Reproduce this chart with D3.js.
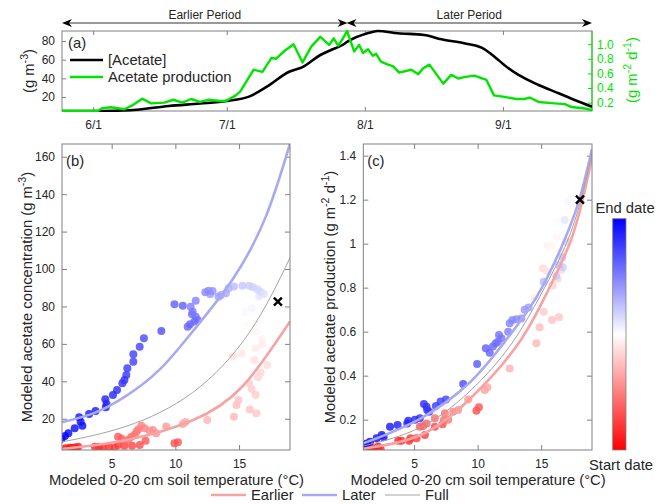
<!DOCTYPE html>
<html>
<head>
<meta charset="utf-8">
<script src="https://cdn.jsdelivr.net/npm/d3@7"></script>
<style>
  body { margin: 0; background: #fff; }
  svg { font-family: "Liberation Sans", Arial, Helvetica, sans-serif; }
</style>
</head>
<body>
<div id="chart"></div>
<script>
// ---------- (a) time series, days counted from June 1 ----------
const acetateDays = [-7, 1, 5, 9, 17, 24, 30, 35, 39, 44, 47, 51, 53.4, 56, 57.1, 61.6, 63.9, 68.4, 74.3, 78.2, 83.3, 87.2, 90.1, 92.3, 95.5, 100, 104.5, 108.1, 112];
const acetateConc = [5, 5, 5.3, 6, 10.4, 13, 15.7, 20.4, 31, 47, 52, 65, 70.4, 75.7, 79.3, 88.3, 90.7, 88.3, 86.5, 81.8, 77.5, 72.8, 63.2, 54.3, 43.6, 32.9, 24, 16.8, 9.6];

const prodDays = [-7, 1, 2, 4, 7, 9, 11, 13, 16, 18, 20, 22, 24, 26, 29, 30, 32, 33, 36, 38, 40, 41, 43, 45, 47, 49, 51, 53, 54, 55, 56, 57,
  58.6, 59.7, 60.6, 61.7, 62.8, 63.5, 64.6, 66.2, 67.3, 68.7, 71.4, 73, 74.1, 75.5, 78.6, 80.4, 82, 83.3, 85.6, 88.3, 90, 92.3, 95, 96.8, 98, 100, 103.6, 105.9, 107.4, 110.4, 112];
const prodRate = [0.086, 0.086, 0.123, 0.137, 0.11, 0.17, 0.255, 0.19, 0.2, 0.24, 0.2, 0.25, 0.21, 0.24, 0.22, 0.23, 0.3, 0.35, 0.65, 0.62, 0.81, 0.8, 0.91, 1.0, 0.75, 0.97, 1.1, 0.99, 1.08, 0.98, 1.07, 1.18,
  0.9, 0.99, 0.88, 0.93, 0.84, 0.87, 0.76, 0.72, 0.7, 0.61, 0.65, 0.59, 0.67, 0.72, 0.46, 0.58, 0.53, 0.55, 0.57, 0.51, 0.3, 0.28, 0.25, 0.25, 0.27, 0.21, 0.19, 0.18, 0.14, 0.12, 0.1];

const firstDay = -7, splitDay = 57, lastDay = 112;
const dayTicks = [0, 30, 61, 92];

// ---------- (b) temperature vs concentration, colour = date (0 start, 1 end) ----------
const bTemp = [1.4, 1.73, 1.9, 2.1, 2.2, 2.37, 3.68, 4.0, 4.3, 4.8, 5.24, 5.5, 6.0, 6.6, 7.2, 9.93, 10.2,
  7.66, 5.5, 5.76, 6.28, 6.55, 6.8, 6.94, 7.1, 7.33, 7.58, 7.98, 8.23, 8.5, 9.28, 10.58, 10.8, 12.5,
  14.6, 14.8, 14.95, 15.84, 16.36, 16.3, 16.0, 15.8, 16.5, 16.7, 17.2, 16.2, 14.5, 15.2, 16.3, 16.8, 16.8, 16.36, 15.65, 16.26, 15.65, 15.5, 16.0,
  16.57, 16.96, 16.7, 16.44, 16.1, 15.8, 15.26, 14.6, 14.17, 13.97, 13.58, 13.39, 12.74, 12.92, 12.6, 12.35,
  11.6, 11.2, 11.36, 11.3, 11.6, 11.75, 11.5, 11.15, 10.97, 10.58, 9.93,
  8.9, 7.53, 7.2, 6.7, 6.7, 6.23, 6.15, 6.0, 5.84, 5.42, 5.1, 4.5, 4.6, 4.54, 3.73, 3.23, 2.45, 2.56, 2.7, 2.1, 1.6, 1.33, 1.08];
const bConc = [4.2, 4.5, 4.3, 4.7, 4.2, 5.1, 5.1, 5.1, 4.6, 4.7, 4.5, 6.0, 5.6, 5.6, 6.0, 6.9, 7.4,
  8.3, 10.4, 9.5, 8.6, 10.4, 11.3, 13.1, 14.4, 16.3, 14.9, 13.6, 14.0, 12.2, 15.8, 17.2, 18.3, 19.3,
  21.1, 27.3, 30.0, 25.0, 22.9, 32.7, 35.9, 38.9, 42.2, 44.6, 48.7, 51.4, 53.2, 55.0, 57.7, 59.8, 62.5, 66.5, 70.0, 70.6, 74.9, 77, 79,
  85.6, 86.7, 87.9, 89.2, 90.3, 91.0, 91.0, 90.6, 89.7, 87.0, 86.1, 85.2, 86.7, 88.3, 88.4, 87.6,
  83.1, 79.9, 77.2, 75.8, 74.5, 72.8, 71.9, 70.5, 69.2, 80.4, 81.2,
  66.9, 63.0, 58.5, 54.4, 50.5, 47.0, 43.4, 40.7, 39.0, 35.4, 32.7, 30.4, 27.9, 26.1, 24.1, 22.5, 20.8, 18.4, 16.3, 14.9, 12.2, 10.8, 9.5];
const bTime = [0.02, 0.03, 0.04, 0.05, 0.05, 0.06, 0.08, 0.09, 0.09, 0.1, 0.11, 0.12, 0.13, 0.14, 0.15, 0.16, 0.17,
  0.17, 0.18, 0.19, 0.2, 0.21, 0.22, 0.23, 0.24, 0.25, 0.26, 0.27, 0.28, 0.29, 0.31, 0.32, 0.33, 0.35,
  0.36, 0.37, 0.38, 0.38, 0.39, 0.4, 0.4, 0.41, 0.42, 0.42, 0.43, 0.44, 0.44, 0.45, 0.46, 0.46, 0.47, 0.48, 0.49, 0.49, 0.5, 0.51, 0.52,
  0.55, 0.56, 0.57, 0.58, 0.59, 0.6, 0.61, 0.63, 0.65, 0.67, 0.68, 0.69, 0.7, 0.71, 0.72, 0.73,
  0.74, 0.75, 0.76, 0.77, 0.77, 0.78, 0.79, 0.8, 0.8, 0.81, 0.81,
  0.84, 0.85, 0.86, 0.87, 0.87, 0.88, 0.89, 0.9, 0.9, 0.91, 0.92, 0.93, 0.93, 0.94, 0.95, 0.95, 0.96, 0.96, 0.97, 0.97, 0.98, 0.99, 1.0];

// fitted curves, [temperature, value]
const bEarlierCurve = [[1.1, 3.8], [6.15, 8.6], [11.36, 19.2], [15.3, 37.5], [19, 72]];
const bLaterCurve = [[1.1, 18.2], [3.6, 23], [6.2, 32.5], [8.8, 46.5], [11.4, 67], [14.5, 94.5], [17.1, 128], [19, 167]];
const bFullCurve = [[1.1, 7.6], [6.15, 16], [11.36, 34], [15.8, 66], [19, 106]];

// ---------- (c) temperature vs production ----------
const cTemp = [1.39, 1.6, 1.79, 2.18, 2.37, 3.75, 4.0, 4.6, 4.72, 5.19, 5.85, 6.63, 7.24, 9.9, 10.1,
  5.45, 5.71, 5.98, 6.63, 7.34, 7.42, 7.68, 8.07, 8.46, 9.25, 10.56, 10.77, 12.52, 14.62, 14.88,
  15.85, 16.4, 15.2, 15.9, 16.3, 15.14, 15.5, 16.58, 16.66, 17.3, 15.5, 15.8, 16.24, 16.24, 15.67, 14.49,
  1.0, 1.27, 1.53, 2.05, 2.45, 2.6, 3.1, 3.7, 4.46, 4.54, 5.06, 5.45, 5.77, 5.98, 6.03,
  6.18, 6.71, 7.08, 7.5, 8.86, 9.96, 10.64, 10.95, 11.2, 11.42, 11.6, 11.68, 11.87, 12.4, 12.52,
  12.73, 13.05, 13.44, 13.7, 14.0, 15.2, 16.19, 16.7, 16.66, 16.4, 16.98, 16.84, 17.1];
const cProd = [0.072, 0.066, 0.07, 0.077, 0.065, 0.104, 0.104, 0.104, 0.115, 0.115, 0.13, 0.168, 0.179, 0.24, 0.256,
  0.168, 0.171, 0.183, 0.206, 0.198, 0.229, 0.2, 0.236, 0.244, 0.292, 0.335, 0.347, 0.433, 0.547, 0.62,
  0.653, 0.665, 0.69, 0.81, 0.84, 0.888, 0.872, 0.88, 0.963, 1.017, 0.99, 0.99, 1.03, 1.1, 1.074, 0.751,
  0.085, 0.092, 0.1, 0.115, 0.13, 0.12, 0.168, 0.176, 0.183, 0.195, 0.2, 0.206, 0.271, 0.259, 0.244,
  0.236, 0.262, 0.282, 0.292, 0.362, 0.453, 0.524, 0.504, 0.532, 0.547, 0.554, 0.585, 0.57, 0.6, 0.638,
  0.653, 0.656, 0.66, 0.7, 0.71, 0.827, 0.853, 0.893, 0.938, 0.903, 1.009, 1.107, 1.19];
const cTime = [0.02, 0.04, 0.03, 0.05, 0.06, 0.08, 0.09, 0.1, 0.11, 0.12, 0.13, 0.14, 0.15, 0.16, 0.17,
  0.18, 0.19, 0.2, 0.21, 0.22, 0.23, 0.24, 0.26, 0.28, 0.3, 0.32, 0.33, 0.35, 0.36, 0.37,
  0.38, 0.39, 0.4, 0.41, 0.42, 0.43, 0.44, 0.42, 0.45, 0.46, 0.47, 0.48, 0.48, 0.49, 0.5, 0.45,
  1.0, 0.99, 0.98, 0.97, 0.96, 0.96, 0.95, 0.94, 0.93, 0.93, 0.92, 0.91, 0.9, 0.9, 0.89,
  0.89, 0.88, 0.87, 0.86, 0.85, 0.82, 0.81, 0.8, 0.79, 0.78, 0.77, 0.77, 0.76, 0.75, 0.74,
  0.73, 0.72, 0.71, 0.7, 0.69, 0.64, 0.61, 0.6, 0.62, 0.63, 0.58, 0.55, 0.52];

const cEarlierCurve = [[1, 0.068], [5.5, 0.13], [9.4, 0.295], [13.18, 0.544], [15.53, 0.786], [17.24, 1.0], [18.28, 1.203], [19, 1.39]];
const cLaterCurve = [[1, 0.092], [5.5, 0.205], [9.4, 0.37], [12.0, 0.544], [14.62, 0.756], [16.71, 1.0], [18.02, 1.203], [19, 1.43]];
const cFullCurve = [[1, 0.08], [5.5, 0.165], [9.4, 0.33], [12.66, 0.544], [15.14, 0.786], [16.98, 1.0], [18.15, 1.203], [19, 1.41]];

// chamber measurement (black cross) in (b) and (c)
const crossTemp = 18.05, crossConc = 82.6, crossProd = 1.2;

const tempTicks = [5, 10, 15];
const concTicks = [20, 40, 60, 80, 100, 120, 140, 160];
const prodTicks = [0.2, 0.4, 0.6, 0.8, 1, 1.2, 1.4];

// ---------- styles ----------
const axisGray = '#808080';
const textDark = '#262626';
const green = '#00e400';
const earlierColor = '#f5a3a3';
const laterColor = '#a9a9f2';
const fullColor = '#a3a3a3';
const FS = 14.8;   // labels, legends
const TS = 12;     // tick labels

const dateColor = d3.scaleLinear().domain([0, 0.5, 1]).range(['#ff0000', '#ffffff', '#0000ff']);

const svg = d3.select('#chart').append('svg')
  .attr('width', 663)
  .attr('height', 504);

const defs = svg.append('defs');

function richText(txt, parts, size) {
  let shift = 0;
  parts.forEach(p => {
    const sup = Array.isArray(p);
    const target = sup ? -size * 0.42 : 0;
    txt.append('tspan')
      .attr('dy', target - shift)
      .attr('font-size', sup ? size * 0.72 : size)
      .text(sup ? p[0] : p);
    shift = target;
  });
  return txt;
}

function styleAxis(g, color) {
  g.attr('font-family', null).attr('font-size', TS);
  g.select('.domain').remove();
  g.selectAll('.tick line').attr('stroke', color || axisGray);
  g.selectAll('.tick text').attr('fill', color || textDark);
}

function frame(x0, x1, y0, y1) {
  svg.append('rect')
    .attr('x', x0).attr('y', y0)
    .attr('width', x1 - x0).attr('height', y1 - y0)
    .attr('fill', 'none')
    .attr('stroke', axisGray);
}

function clipFor(id, x0, x1, y0, y1) {
  defs.append('clipPath').attr('id', id)
    .append('rect').attr('x', x0).attr('y', y0).attr('width', x1 - x0).attr('height', y1 - y0);
  return `url(#${id})`;
}

// ================= panel (a) =================
const A = { L: 62, R: 592, T: 31, B: 111 };
const ax = d3.scaleLinear().domain([firstDay, lastDay]).range([A.L, A.R]);
const ayL = d3.scaleLinear().domain([5, 90.7]).range([A.B, A.T]);
const ayR = d3.scaleLinear().domain([0.086, 1.18]).range([A.B, A.T]);
const june1 = new Date(2019, 5, 1);
const fmtDay = d => d3.timeFormat('%-m/%-d')(d3.timeDay.offset(june1, d));

svg.append('g').attr('transform', `translate(0,${A.B})`)
  .call(d3.axisBottom(ax).tickValues(dayTicks).tickFormat(fmtDay).tickSize(-4).tickPadding(9))
  .call(styleAxis);
svg.append('g').attr('transform', `translate(0,${A.T})`)
  .call(d3.axisTop(ax).tickValues(dayTicks).tickFormat('').tickSize(-4))
  .call(styleAxis);
svg.append('g').attr('transform', `translate(${A.L},0)`)
  .call(d3.axisLeft(ayL).tickValues([20, 40, 60, 80]).tickSize(-4).tickPadding(7))
  .call(styleAxis);
svg.append('g').attr('transform', `translate(${A.R},0)`)
  .call(d3.axisRight(ayR).tickValues([0.2, 0.4, 0.6, 0.8, 1]).tickSize(-4).tickPadding(5))
  .call(g => styleAxis(g, green));

frame(A.L, A.R, A.T, A.B);
svg.append('line')
  .attr('x1', A.R).attr('x2', A.R).attr('y1', A.T).attr('y2', A.B)
  .attr('stroke', green);

const clipA = clipFor('clipA', A.L, A.R, A.T - 2, A.B + 1);

svg.append('path')
  .datum(d3.zip(acetateDays, acetateConc))
  .attr('clip-path', clipA)
  .attr('fill', 'none')
  .attr('stroke', '#000')
  .attr('stroke-width', 2.6)
  .attr('stroke-linejoin', 'round')
  .attr('d', d3.line().x(d => ax(d[0])).y(d => ayL(d[1])).curve(d3.curveMonotoneX));

svg.append('path')
  .datum(d3.zip(prodDays, prodRate))
  .attr('clip-path', clipA)
  .attr('fill', 'none')
  .attr('stroke', green)
  .attr('stroke-width', 2.4)
  .attr('stroke-linejoin', 'round')
  .attr('d', d3.line().x(d => ax(d[0])).y(d => ayR(d[1])));

svg.append('text').attr('x', 68).attr('y', 48).attr('font-size', FS).attr('fill', textDark).text('(a)');

// legend inside (a)
[['[Acetate]', '#000', 60], ['Acetate production', green, 77]].forEach(([label, color, y]) => {
  svg.append('line')
    .attr('x1', 70).attr('x2', 103).attr('y1', y).attr('y2', y)
    .attr('stroke', color).attr('stroke-width', 2.6);
  svg.append('text')
    .attr('x', 108).attr('y', y + 5)
    .attr('font-size', FS).attr('fill', textDark)
    .text(label);
});

richText(svg.append('text')
  .attr('transform', 'translate(34,71) rotate(-90)')
  .attr('text-anchor', 'middle')
  .attr('fill', textDark), ['(g m', ['-3'], ')'], FS);

richText(svg.append('text')
  .attr('transform', 'translate(637,70) rotate(-90)')
  .attr('text-anchor', 'middle')
  .attr('fill', green), ['(g m', ['-2'], ' d', ['-1'], ')'], FS);

// period arrows above (a)
function arrowHead(x, y, dir) {
  const len = 10, half = 4, back = 7;
  return `M${x},${y}L${x - dir * len},${y - half}L${x - dir * back},${y}L${x - dir * len},${y + half}Z`;
}
function periodArrow(d0, d1, label, shiftL, shiftR) {
  const x0 = ax(d0) + shiftL, x1 = ax(d1) + shiftR, y = 23;
  svg.append('line')
    .attr('x1', x0 + 4).attr('x2', x1 - 4).attr('y1', y).attr('y2', y)
    .attr('stroke', '#000').attr('stroke-width', 0.8);
  svg.append('path').attr('d', arrowHead(x0, y, -1)).attr('fill', '#000');
  svg.append('path').attr('d', arrowHead(x1, y, 1)).attr('fill', '#000');
  svg.append('text')
    .attr('x', (x0 + x1) / 2).attr('y', 19)
    .attr('text-anchor', 'middle')
    .attr('font-size', 12).attr('fill', textDark)
    .text(label);
}
periodArrow(firstDay, splitDay, 'Earlier Period', 0, 0.5);
periodArrow(splitDay, lastDay, 'Later Period', -0.5, 0);

// ================= scatter panels =================
function scatterPanel(o) {
  const x = d3.scaleLinear().domain(o.xDomain).range([o.L, o.R]);
  const y = d3.scaleLinear().domain(o.yDomain).range([o.B, o.T]);

  svg.append('g').attr('transform', `translate(0,${o.B})`)
    .call(d3.axisBottom(x).tickValues(tempTicks).tickSize(-5).tickPadding(9))
    .call(styleAxis);
  svg.append('g').attr('transform', `translate(0,${o.T})`)
    .call(d3.axisTop(x).tickValues(tempTicks).tickFormat('').tickSize(-5))
    .call(styleAxis);
  svg.append('g').attr('transform', `translate(${o.L},0)`)
    .call(d3.axisLeft(y).tickValues(o.yTicks).tickFormat(o.yFormat).tickSize(-5).tickPadding(7))
    .call(styleAxis);
  svg.append('g').attr('transform', `translate(${o.R},0)`)
    .call(d3.axisRight(y).tickValues(o.yTicks).tickFormat('').tickSize(-5))
    .call(styleAxis);

  const clip = clipFor(o.id, o.L, o.R, o.T, o.B);
  const line = d3.line().x(d => x(d[0])).y(d => y(d[1])).curve(d3.curveNatural);

  const pts = d3.range(o.temp.length)
    .map(i => ({ t: o.temp[i], v: o.val[i], c: o.time[i] }))
    .sort((a, b) => a.c - b.c);

  svg.append('g').attr('clip-path', clip)
    .selectAll('circle').data(pts).join('circle')
    .attr('cx', d => x(d.t))
    .attr('cy', d => y(d.v))
    .attr('r', 4)
    .attr('fill', d => dateColor(d.c))
    .attr('fill-opacity', 0.82);

  const curves = svg.append('g').attr('clip-path', clip).attr('fill', 'none');
  curves.append('path').datum(o.earlier).attr('d', line)
    .attr('stroke', earlierColor).attr('stroke-width', 2.6);
  curves.append('path').datum(o.later).attr('d', line)
    .attr('stroke', laterColor).attr('stroke-width', 2.6);
  curves.append('path').datum(o.full).attr('d', line)
    .attr('stroke', fullColor).attr('stroke-width', 1);

  const cx = x(crossTemp), cy = y(o.cross), s = 4;
  svg.append('path')
    .attr('d', `M${cx - s},${cy - s}L${cx + s},${cy + s}M${cx - s},${cy + s}L${cx + s},${cy - s}`)
    .attr('stroke', '#000').attr('stroke-width', 2.4);

  frame(o.L, o.R, o.T, o.B);

  svg.append('text').attr('x', o.L + 4).attr('y', o.T + 22)
    .attr('font-size', FS).attr('fill', textDark).text(o.tag);

  svg.append('text')
    .attr('x', (o.L + o.R) / 2 + 0.5).attr('y', 485)
    .attr('text-anchor', 'middle')
    .attr('font-size', FS).attr('fill', textDark)
    .text('Modeled 0-20 cm soil temperature (°C)');

  richText(svg.append('text')
    .attr('transform', `translate(${o.yLabelX},${(o.T + o.B) / 2}) rotate(-90)`)
    .attr('text-anchor', 'middle')
    .attr('fill', textDark), o.yLabel, FS);
}

scatterPanel({
  id: 'clipB', tag: '(b)',
  L: 62, R: 290, T: 144, B: 450,
  xDomain: [1.1, 19], yDomain: [3.3, 166.8],
  yTicks: concTicks, yFormat: d3.format('d'),
  temp: bTemp, val: bConc, time: bTime,
  earlier: bEarlierCurve, later: bLaterCurve, full: bFullCurve,
  cross: crossConc,
  yLabelX: 32,
  yLabel: ['Modeled acetate concentration (g m', ['-3'], ')']
});

scatterPanel({
  id: 'clipC', tag: '(c)',
  L: 363.3, R: 592, T: 144, B: 450,
  xDomain: [1, 19], yDomain: [0.062, 1.453],
  yTicks: prodTicks, yFormat: d => String(d),
  temp: cTemp, val: cProd, time: cTime,
  earlier: cEarlierCurve, later: cLaterCurve, full: cFullCurve,
  cross: crossProd,
  yLabelX: 335,
  yLabel: ['Modeled acetate production (g m', ['-2'], ' d', ['-1'], ')']
});

// ---------- colour bar ----------
const grad = defs.append('linearGradient').attr('id', 'dateGrad')
  .attr('x1', 0).attr('y1', 1).attr('x2', 0).attr('y2', 0);
grad.selectAll('stop').data([0, 0.5, 1]).join('stop')
  .attr('offset', d => d)
  .attr('stop-color', d => dateColor(d));

const CB = { L: 612.7, R: 626, T: 218.7, B: 450 };
svg.append('rect')
  .attr('x', CB.L).attr('y', CB.T)
  .attr('width', CB.R - CB.L).attr('height', CB.B - CB.T)
  .attr('fill', 'url(#dateGrad)')
  .attr('stroke', axisGray).attr('stroke-width', 0.8);
svg.append('text').attr('x', 625).attr('y', 213)
  .attr('text-anchor', 'middle').attr('font-size', FS).attr('fill', textDark).text('End date');
svg.append('text').attr('x', 621).attr('y', 470)
  .attr('text-anchor', 'middle').attr('font-size', FS).attr('fill', textDark).text('Start date');

// ---------- bottom legend ----------
[['Earlier', earlierColor, 2.6, 211], ['Later', laterColor, 2.6, 302], ['Full', fullColor, 1, 385]]
  .forEach(([label, color, w, x0]) => {
    svg.append('line')
      .attr('x1', x0).attr('x2', x0 + 35).attr('y1', 495).attr('y2', 495)
      .attr('stroke', color).attr('stroke-width', w);
    svg.append('text')
      .attr('x', x0 + 40).attr('y', 500)
      .attr('font-size', FS).attr('fill', textDark)
      .text(label);
  });
</script>
</body>
</html>
